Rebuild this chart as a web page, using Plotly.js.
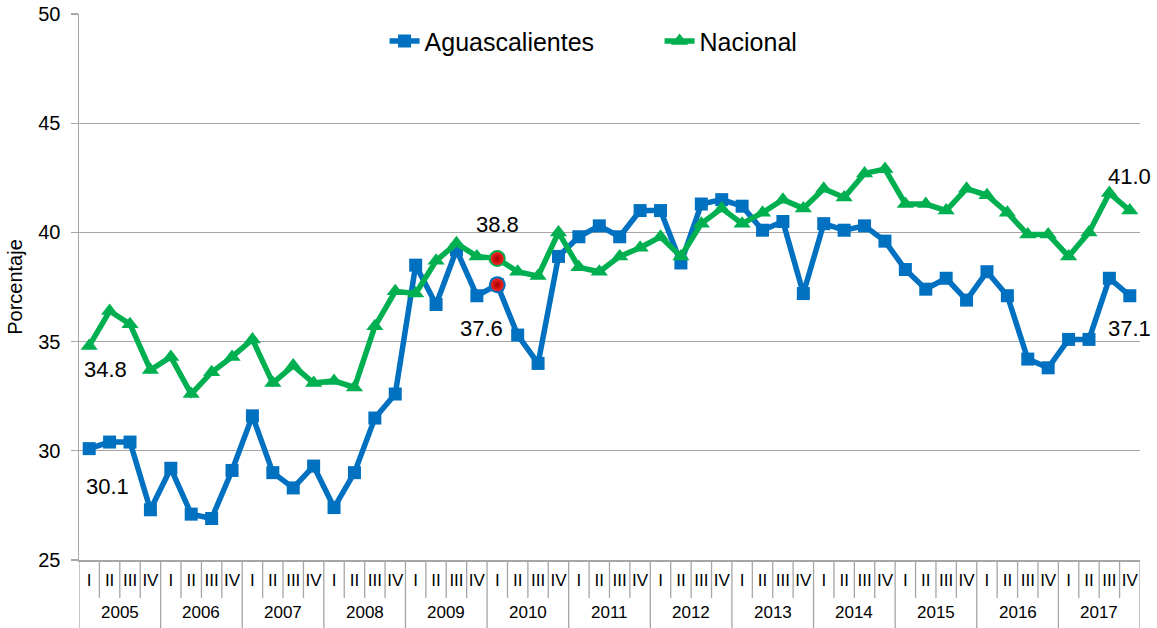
<!DOCTYPE html>
<html>
<head>
<meta charset="utf-8">
<script src="https://cdn.plot.ly/plotly-3.0.1.min.js"></script>
<style>html,body{margin:0;padding:0;background:#fff;}#chart{width:1157px;height:628px;}</style>
</head>
<body>
<div id="chart"></div>
<script>
// ---- data ----
const years = ['2005','2006','2007','2008','2009','2010','2011','2012','2013','2014','2015','2016','2017'];
const quarters = ['I','II','III','IV'];
const aguascalientes = [30.1,30.4,30.4,27.3, 29.2,27.1,26.9,29.1, 31.6,29.0,28.3,29.3, 27.4,29.0,31.5,32.6,
  38.5,36.7,39.2,37.1, 37.6,35.3,34.0,38.9, 39.8,40.3,39.8,41.0, 41.0,38.6,41.3,41.5,
  41.2,40.1,40.5,37.2, 40.4,40.1,40.3,39.6, 38.3,37.4,37.9,36.9, 38.2,37.1,34.2,33.8,
  35.1,35.1,37.9,37.1];
const nacional = [34.8,36.4,35.8,33.7, 34.3,32.6,33.6,34.3, 35.1,33.1,33.9,33.1, 33.2,32.9,35.7,37.3,
  37.2,38.7,39.5,38.9, 38.8,38.2,38.0,40.0, 38.4,38.2,38.9,39.3, 39.8,38.9,40.4,41.1,
  40.4,40.9,41.5,41.1, 42.0,41.6,42.7,42.9, 41.3,41.3,41.0,42.0, 41.7,40.9,39.9,39.9,
  38.9,40.0,41.8,41.0];
const highlightYear = '2010', highlightQuarter = 'I';

// ---- build category axis ----
const xCats = [], xQuarterText = [];
years.forEach(y => quarters.forEach(q => { xCats.push(y + ' ' + q); xQuarterText.push(q); }));
const n = xCats.length;
const nq = quarters.length;
const hi = xCats.indexOf(highlightYear + ' ' + highlightQuarter);

const BLUE = '#0070C0', GREEN = '#00B050', GRID = '#a6a6a6';
const FONT = 'Liberation Sans, Arial, sans-serif';

const traces = [
  {x:xCats, y:aguascalientes, name:'Aguascalientes', type:'scatter', mode:'lines+markers',
   line:{color:BLUE,width:5.5}, marker:{symbol:'square',size:13,color:BLUE}},
  {x:xCats, y:nacional, name:'Nacional', type:'scatter', mode:'lines+markers',
   line:{color:GREEN,width:5.5}, marker:{symbol:'triangle-up',size:15,color:GREEN}},
  {x:[xCats[hi]], y:[nacional[hi]], type:'scatter', mode:'markers', showlegend:false,
   marker:{symbol:'circle',size:15,color:'#ff2a2a',gradient:{type:'radial',color:'#a00000'},line:{color:GREEN,width:2}}},
  {x:[xCats[hi]], y:[aguascalientes[hi]], type:'scatter', mode:'markers', showlegend:false,
   marker:{symbol:'circle',size:15,color:'#ff2a2a',gradient:{type:'radial',color:'#a00000'},line:{color:BLUE,width:2}}}
];

function lab(idx, val, xs, ys){
  return {x:idx, y:val, xref:'x', yref:'y', text:val.toFixed(1), showarrow:false,
    xshift:xs, yshift:ys, font:{family:FONT,size:22,color:'#000'}};
}

const PLOT_H = 628 - 14 - 68;
const qDrop = -38 / PLOT_H, yDrop = -68 / PLOT_H, yearLabY = -52 / PLOT_H;

const shapes = [];
for (let i = 0; i <= n; i++) {
  const isYear = (i % nq === 0);
  shapes.push({type:'line', xref:'x', yref:'paper', x0:i-0.5, x1:i-0.5, y0:0, y1:isYear ? yDrop : qDrop,
    line:{color:GRID, width:1.3}, layer:'above'});
}

const annotations = [
  lab(0, nacional[0], 16, -24),
  lab(0, aguascalientes[0], 18, -38),
  lab(hi, nacional[hi], 0, 34),
  lab(hi, aguascalientes[hi], -16, -44),
  lab(n-1, nacional[n-1], 0, 34),
  lab(n-1, aguascalientes[n-1], 0, -33)
];
years.forEach((y, k) => {
  annotations.push({x:k*nq + (nq-1)/2, y:yearLabY, xref:'x', yref:'paper', text:y, showarrow:false,
    xanchor:'center', yanchor:'middle', font:{family:FONT,size:17,color:'#000'}});
});

const layout = {
  width:1157, height:628,
  margin:{l:79, r:17, t:14, b:68},
  paper_bgcolor:'#fff', plot_bgcolor:'#fff',
  font:{family:FONT, color:'#000'},
  showlegend:true,
  legend:{orientation:'h', x:0.288, xanchor:'left', y:0.95, yanchor:'middle',
    entrywidth:230, entrywidthmode:'pixels',
    font:{family:FONT,size:25,color:'#000'}, bgcolor:'rgba(0,0,0,0)'},
  xaxis:{type:'category', range:[-0.5, n-0.5], tickmode:'array', tickvals:xCats, ticktext:xQuarterText,
    showline:true, linecolor:GRID, linewidth:1.5, ticks:'', showgrid:false, zeroline:false,
    tickfont:{family:FONT,size:17,color:'#000'}, tickangle:0, ticklabelstandoff:4},
  yaxis:{range:[25,50], dtick:5, tick0:25, showgrid:true, gridcolor:GRID, gridwidth:1.3,
    showline:true, linecolor:GRID, linewidth:1.5, ticks:'outside', ticklen:7, tickcolor:GRID, tickwidth:1.3,
    tickfont:{family:FONT,size:20,color:'#000'}, zeroline:false, ticklabelstandoff:6,
    title:{text:'Porcentaje', font:{family:FONT,size:20,color:'#000'}, standoff:10}},
  shapes: shapes,
  annotations: annotations
};

Plotly.newPlot('chart', traces, layout, {displayModeBar:false, staticPlot:true});
</script>
</body>
</html>
